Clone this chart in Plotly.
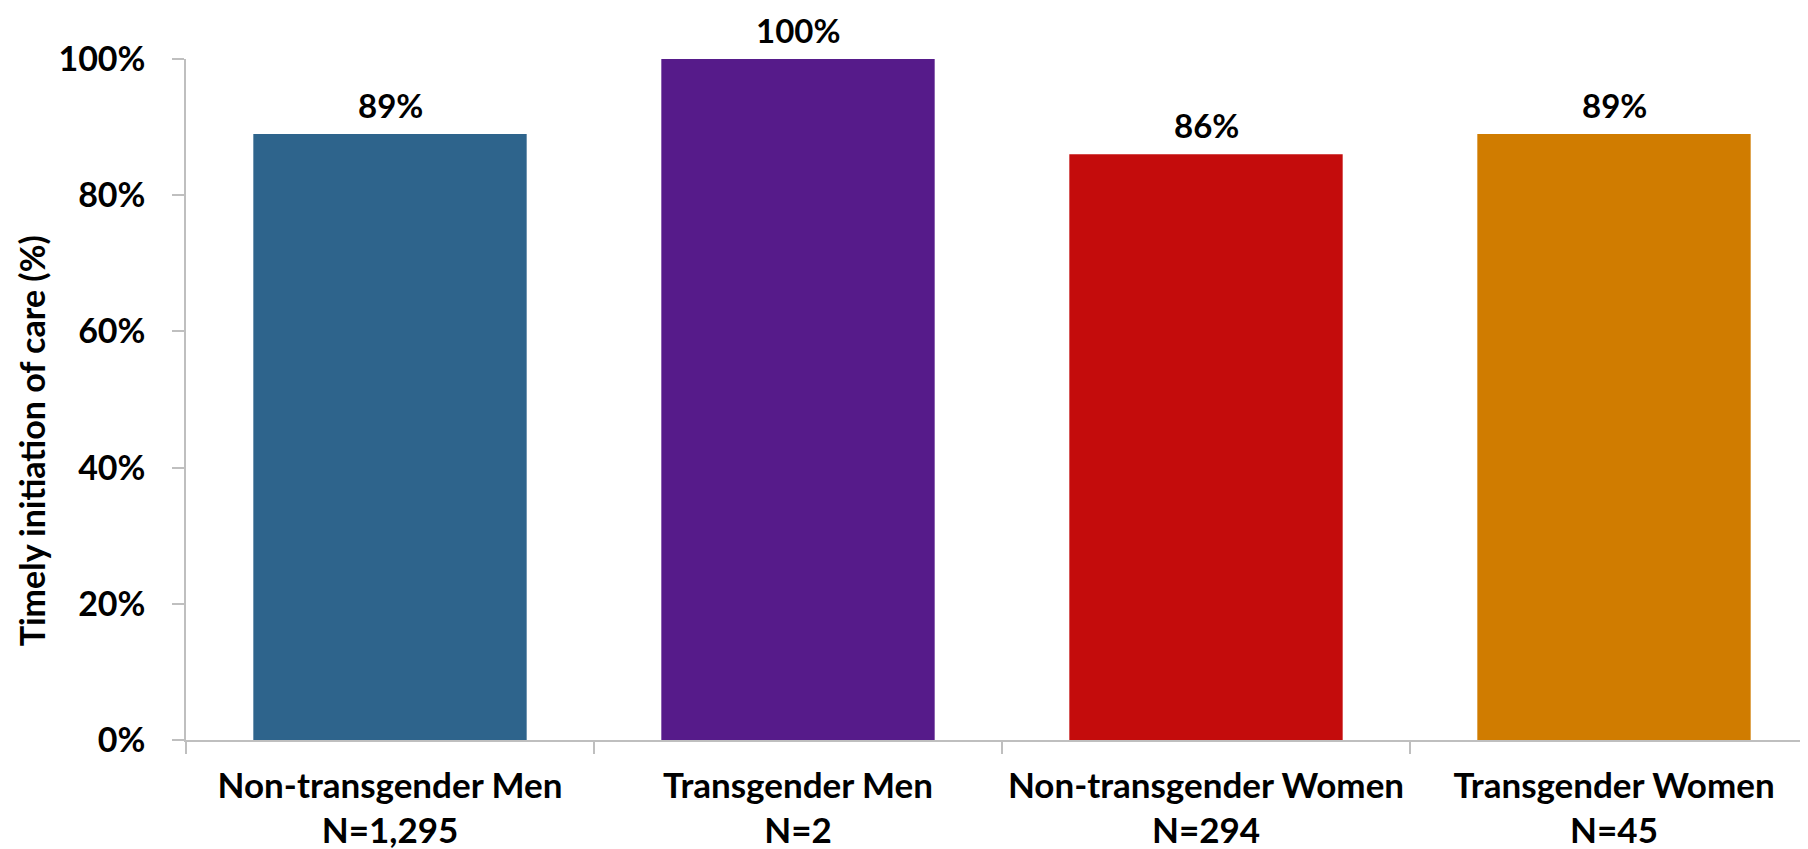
import plotly.graph_objects as go

categories = ["Non-transgender Men<br>N=1,295", "Transgender Men<br>N=2",
              "Non-transgender Women<br>N=294", "Transgender Women<br>N=45"]
values = [0.89, 1.00, 0.86, 0.89]
value_labels = ["89%", "100%", "86%", "89%"]
colors = ["#2E648C", "#561B8A", "#C40C0C", "#D07C00"]
tick_vals = [0, 0.2, 0.4, 0.6, 0.8, 1.0]
tick_text = ["0%", "20%", "40%", "60%", "80%", "100%"]
y_title = "Timely initiation of care (%)"

FONT = "Lato"
fig = go.Figure(go.Bar(x=categories, y=values, marker=dict(color=colors, line=dict(width=0)),
                       width=0.67, hoverinfo="skip"))

for c, v, t in zip(categories, values, value_labels):
    fig.add_annotation(x=c, y=v, text=t, showarrow=False, yshift=29,
                       font=dict(family=FONT, size=33, color="black", weight="bold"))

fig.add_annotation(xref="paper", yref="paper", x=-0.0956, y=0.44, text=y_title,
                   textangle=-90, showarrow=False, xanchor="center", yanchor="middle",
                   font=dict(family=FONT, size=34, color="black", weight="bold"))

fig.update_layout(
    width=1800, height=841,
    margin=dict(l=178, r=0, t=51, b=109),
    plot_bgcolor="white", paper_bgcolor="white",
    showlegend=False,
    font=dict(family=FONT, color="black"),
)
fig.update_xaxes(
    showline=True, linecolor="#BFBFBF", linewidth=1.5,
    ticks="outside", tickson="boundaries", ticklen=12, tickcolor="#BFBFBF", tickwidth=1.5,
    tickfont=dict(family=FONT, size=35, color="black", weight="bold"),
    ticklabelstandoff=14,
    showgrid=False, range=[-0.5, 3.4755], automargin=False,
)
fig.update_yaxes(
    range=[0, 1], tickvals=tick_vals, ticktext=tick_text,
    showline=True, linecolor="#BFBFBF", linewidth=1.5,
    ticks="outside", ticklen=12, tickcolor="#BFBFBF", tickwidth=1.5,
    tickfont=dict(family=FONT, size=34, color="black", weight="bold"),
    ticklabelstandoff=20,
    showgrid=False, zeroline=False, automargin=False,
)

fig.write_html("out.html")
